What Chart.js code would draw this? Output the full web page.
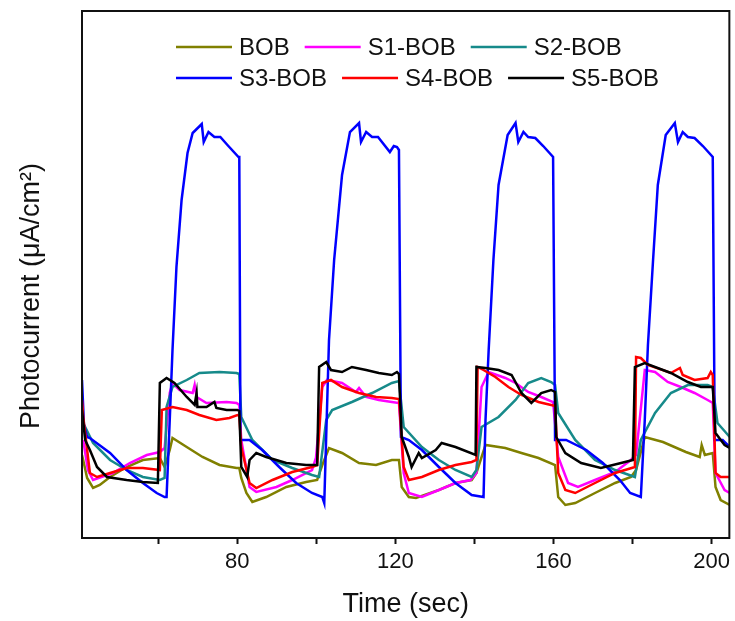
<!DOCTYPE html>
<html>
<head>
<meta charset="utf-8">
<script src="https://cdn.jsdelivr.net/npm/chart.js@4.4.0/dist/chart.umd.min.js"></script>
<style>
  html, body { margin: 0; padding: 0; background: #fff; }
</style>
</head>
<body>
<canvas id="photoChart" width="735" height="621"></canvas>
<script>
// time (sec), photocurrent (uA/cm2)
const bob = [[40.7,8.3],[41.0,7.8],[42.0,6.0],[43.5,5.0],[45.2,5.3],[47.8,6.1],[52.0,7.1],[56.1,7.8],[60.4,8.0],[61.6,7.1],[62.9,8.8],[63.6,10.0],[67.2,9.1],[71.2,8.1],[75.5,7.3],[79.8,7.0],[80.5,7.0],[81.0,6.0],[82.3,4.5],[83.8,3.6],[87.3,4.1],[92.4,5.1],[97.4,5.6],[100.2,5.8],[101.5,7.3],[103.2,9.0],[106.5,8.5],[110.8,7.5],[115.1,7.3],[119.1,7.8],[120.9,7.8],[121.6,5.1],[123.4,4.1],[125.2,4.0],[131.0,4.8],[135.2,5.5],[139.3,5.8],[140.5,6.5],[142.8,9.3],[147.8,9.0],[151.9,8.5],[156.2,8.0],[160.4,7.3],[161.2,4.1],[163.0,3.3],[165.5,3.5],[170.5,4.5],[175.6,5.5],[179.6,6.1],[180.9,6.8],[183.1,10.1],[187.7,9.6],[193.5,8.6],[197.0,8.1],[197.5,9.3],[198.3,8.3],[200.3,8.5],[201.0,5.1],[202.3,3.8],[204.6,3.3]];

const s1 = [[41.0,9.8],[42.2,6.8],[43.5,5.8],[48.5,6.5],[52.8,7.5],[57.1,8.3],[60.4,8.6],[61.6,9.0],[62.9,14.5],[63.6,15.5],[65.4,14.8],[68.7,14.5],[69.2,15.3],[69.7,14.1],[72.2,13.5],[77.3,13.6],[79.8,13.5],[80.5,13.3],[81.0,9.8],[83.1,5.1],[84.8,4.6],[89.9,5.1],[93.9,5.8],[98.9,6.8],[99.9,8.0],[101.5,15.1],[102.7,15.8],[106.5,15.5],[110.0,14.6],[110.8,15.0],[112.6,14.1],[115.8,13.8],[119.1,13.6],[120.9,13.5],[122.1,6.5],[123.4,4.5],[126.7,4.1],[131.0,4.8],[135.2,5.5],[139.0,5.8],[140.5,6.5],[141.8,15.1],[143.6,16.6],[147.8,16.0],[150.4,15.5],[153.6,14.6],[156.9,14.1],[159.9,13.6],[161.2,8.1],[163.7,5.5],[166.2,5.1],[170.5,5.8],[175.6,6.6],[179.6,7.8],[180.9,8.3],[183.1,16.8],[185.7,16.6],[188.9,15.6],[192.2,15.1],[195.7,14.5],[199.0,13.8],[200.3,13.5],[201.0,6.5],[203.3,4.8],[204.6,4.5]];

const s2 = [[40.7,13.3],[41.0,11.5],[43.5,9.5],[47.8,7.8],[52.0,6.8],[56.1,6.1],[60.4,5.8],[61.6,6.0],[62.1,13.1],[63.6,15.1],[67.2,15.8],[70.4,16.5],[75.5,16.6],[79.8,16.5],[80.5,16.4],[81.0,12.1],[83.8,9.8],[88.9,7.8],[93.9,7.0],[98.9,6.3],[100.7,6.1],[102.5,11.8],[104.0,12.8],[109.0,13.6],[114.1,14.5],[119.1,15.5],[120.9,15.7],[122.1,11.1],[126.7,9.1],[131.0,7.8],[135.2,6.8],[139.3,6.1],[140.5,6.8],[141.8,11.1],[146.1,12.1],[150.4,13.8],[153.6,15.5],[156.9,16.0],[159.4,15.6],[160.4,15.3],[161.2,12.5],[165.5,9.8],[170.5,7.8],[175.6,6.8],[180.6,6.1],[182.1,9.8],[185.7,12.5],[189.7,14.5],[194.0,15.3],[199.0,15.3],[200.3,15.1],[201.5,11.5],[204.6,10.1]];

const s3 = [[40.7,15.8],[41.2,11.3],[42.0,10.1],[42.7,10.0],[47.8,8.5],[52.0,6.8],[56.1,5.5],[59.6,4.5],[61.6,4.1],[62.1,4.1],[62.9,11.8],[63.6,18.8],[64.6,27.1],[65.9,33.8],[67.4,38.5],[68.7,40.5],[71.0,41.4],[71.5,39.6],[72.7,40.6],[74.2,40.1],[75.7,40.1],[77.5,39.3],[80.3,38.1],[80.5,38.1],[80.8,9.8],[83.1,9.8],[86.3,8.8],[90.6,7.1],[94.9,5.5],[98.9,4.5],[101.5,4.1],[102.0,3.5],[103.2,19.8],[104.5,27.8],[106.5,36.3],[108.5,40.6],[110.8,41.5],[111.3,39.6],[112.6,40.6],[114.1,40.1],[115.6,40.1],[118.6,38.6],[119.6,39.2],[120.4,39.1],[120.9,38.8],[121.4,10.1],[123.4,9.8],[126.7,8.8],[131.0,7.1],[135.2,5.5],[139.3,4.3],[142.3,4.1],[142.8,11.8],[143.6,18.8],[144.8,27.8],[146.1,35.3],[148.4,40.3],[150.4,41.5],[151.1,39.6],[152.4,40.6],[153.6,40.1],[155.4,40.0],[157.4,39.2],[159.9,38.1],[160.4,9.8],[163.2,9.8],[168.3,8.8],[172.5,7.5],[176.8,5.8],[179.4,4.5],[182.1,4.1],[183.1,11.8],[183.9,19.3],[185.2,27.8],[186.4,35.3],[188.4,40.3],[190.7,41.5],[191.5,39.6],[192.7,40.6],[194.0,40.1],[195.7,40.0],[197.8,39.2],[200.3,38.1],[200.8,9.8],[202.8,9.8],[204.6,9.1]];

const s4 = [[40.7,13.8],[41.0,12.1],[42.7,6.5],[44.5,6.1],[47.8,6.5],[52.0,7.0],[56.1,7.0],[60.4,6.8],[60.9,12.8],[63.6,13.1],[67.2,12.8],[70.4,12.3],[74.7,11.8],[78.0,12.0],[80.0,12.3],[80.5,12.2],[81.0,9.1],[83.1,5.5],[84.8,5.0],[88.9,5.8],[93.9,6.6],[98.9,7.1],[100.2,7.3],[101.5,15.5],[103.7,15.8],[106.5,15.1],[110.8,14.5],[115.1,14.1],[119.1,14.0],[120.9,13.9],[122.1,7.1],[123.4,5.8],[126.7,6.1],[131.0,6.8],[135.2,7.3],[139.3,7.6],[140.5,7.8],[140.8,17.1],[142.3,16.8],[145.3,16.1],[148.6,15.1],[151.9,14.3],[156.2,13.6],[159.4,13.3],[160.4,13.2],[161.2,6.5],[163.0,4.8],[165.5,4.5],[170.5,5.5],[175.6,6.5],[180.6,7.1],[180.9,18.1],[182.1,18.0],[183.9,17.3],[189.7,16.5],[192.0,17.0],[192.7,16.3],[195.7,15.8],[199.0,16.0],[199.8,16.6],[200.3,16.3],[201.0,6.5],[202.3,6.1],[204.6,6.1]];

const s5 = [[40.7,12.8],[41.5,9.8],[42.7,8.8],[44.5,7.1],[47.0,6.1],[52.0,5.8],[56.1,5.6],[59.9,5.5],[60.4,15.5],[62.1,16.0],[64.1,15.5],[67.2,14.1],[69.2,13.3],[69.7,14.5],[69.9,13.1],[72.2,13.1],[74.2,13.6],[74.7,13.0],[77.3,12.8],[80.0,12.8],[80.5,12.7],[81.0,7.1],[82.5,6.1],[83.1,7.8],[84.8,8.5],[87.3,8.1],[92.4,7.5],[97.4,7.3],[100.2,7.3],[100.7,17.1],[102.5,17.6],[103.7,16.8],[106.5,16.6],[109.0,17.1],[112.6,16.8],[115.8,16.5],[119.1,16.3],[120.4,16.6],[120.9,16.4],[121.6,10.1],[123.4,8.1],[124.1,7.1],[125.9,8.5],[126.7,8.0],[130.2,8.8],[131.7,9.5],[135.2,9.1],[140.3,8.3],[140.5,17.1],[142.8,17.0],[146.1,16.8],[149.4,16.3],[151.9,14.5],[154.4,13.5],[156.9,14.5],[159.4,14.8],[160.4,14.6],[160.7,10.1],[163.0,8.5],[167.0,7.5],[172.0,7.0],[177.1,7.5],[180.1,7.8],[180.6,17.1],[183.1,17.5],[189.7,16.5],[194.0,15.6],[197.3,15.1],[200.3,15.1],[201.0,10.5],[203.3,9.3],[204.6,9.0]];

const seriesLabels = ['BOB', 'S1-BOB', 'S2-BOB', 'S3-BOB', 'S4-BOB', 'S5-BOB'];
const seriesColors = ['#808000', '#ff00ff', '#168a8a', '#0000ff', '#ff0000', '#000000'];
const seriesData = [bob, s1, s2, s3, s4, s5];
const labelledTicks = [80, 120, 160, 200];

const FONT = "'Liberation Sans', Arial, sans-serif";

// frame around the plot, y title, and legend inside the frame
const framePlugin = {
  id: 'frame',
  afterDraw(chart) {
    const ctx = chart.ctx;
    const a = chart.chartArea;
    ctx.save();
    ctx.strokeStyle = '#111';
    ctx.lineWidth = 2;
    ctx.strokeRect(a.left, a.top, a.right - a.left, a.bottom - a.top);

    // y axis title
    ctx.save();
    ctx.translate(32, 296);
    ctx.rotate(-Math.PI / 2);
    ctx.font = '27px ' + FONT;
    ctx.fillStyle = '#111';
    ctx.textAlign = 'center';
    ctx.textBaseline = 'middle';
    ctx.fillText('Photocurrent (\u03bcA/cm\u00b2)', 0, 0);
    ctx.restore();

    // legend, 3 per row
    ctx.font = '24px ' + FONT;
    ctx.textBaseline = 'middle';
    const rowsY = [47, 78];
    let lx = 176;
    chart.data.datasets.forEach((ds, i) => {
      if (i % 3 === 0) lx = 176;
      const y = rowsY[Math.floor(i / 3)];
      ctx.strokeStyle = ds.borderColor;
      ctx.lineWidth = 2.5;
      ctx.beginPath();
      ctx.moveTo(lx, y);
      ctx.lineTo(lx + 56, y);
      ctx.stroke();
      ctx.fillStyle = '#111';
      ctx.fillText(ds.label, lx + 63, y + 1);
      lx = lx + 63 + ctx.measureText(ds.label).width + 15;
    });
    ctx.restore();
  }
};

const datasets = seriesData.map((d, i) => ({
  label: seriesLabels[i],
  data: d.map(p => ({ x: p[0], y: p[1] })),
  borderColor: seriesColors[i],
  borderWidth: 2.5,
  pointRadius: 0,
  tension: 0,
  fill: false,
  order: 5 - i
}));

new Chart(document.getElementById('photoChart').getContext('2d'), {
  type: 'line',
  data: { datasets: datasets },
  options: {
    responsive: false,
    animation: false,
    devicePixelRatio: 1,
    layout: { padding: { top: 11, right: 3, left: 0, bottom: 0 } },
    plugins: {
      legend: { display: false },
      tooltip: { enabled: false }
    },
    scales: {
      x: {
        type: 'linear',
        min: 40.7,
        max: 204.5,
        afterFit: (s) => { s.height = 83; },
        border: { display: false },
        grid: {
          drawOnChartArea: false,
          drawTicks: true,
          tickLength: 6,
          tickWidth: 2,
          tickColor: '#111'
        },
        ticks: {
          stepSize: 20,
          includeBounds: false,
          maxRotation: 0,
          autoSkip: false,
          padding: 5,
          color: '#111',
          font: { family: FONT, size: 22 },
          callback: (v) => labelledTicks.includes(v) ? String(v) : ''
        },
        title: {
          display: true,
          text: 'Time (sec)',
          color: '#111',
          font: { family: FONT, size: 27 },
          padding: { top: 0, bottom: 0 }
        }
      },
      y: {
        min: 0,
        max: 52.7,
        afterFit: (s) => { s.width = 82; },
        border: { display: false },
        grid: { display: false },
        ticks: { display: false },
        title: { display: false }
      }
    }
  },
  plugins: [framePlugin]
});
</script>
</body>
</html>
